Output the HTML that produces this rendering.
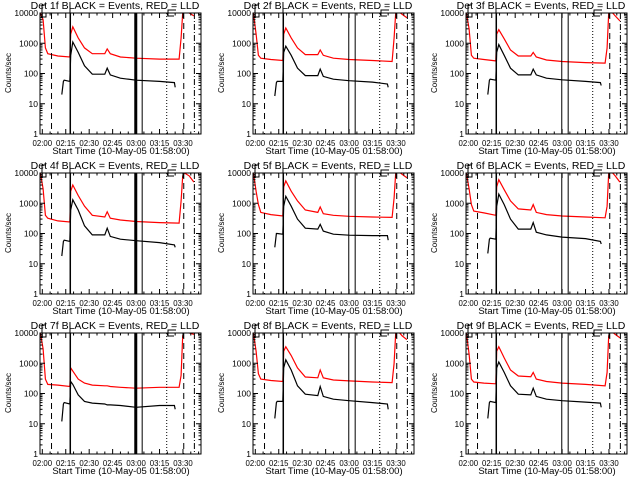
<!DOCTYPE html>
<html><head><meta charset="utf-8"><style>
html,body{margin:0;padding:0;background:#fff;width:640px;height:480px;overflow:hidden}
svg text{font-family:"Liberation Sans",sans-serif;fill:#000}
</style></head><body>
<svg id="chart" width="640" height="480" xmlns="http://www.w3.org/2000/svg"></svg>
<script>
const detectors = ["1f","2f","3f","4f","5f","6f","7f","8f","9f"];
const xTickLabels = ["02:00","02:15","02:30","02:45","03:00","03:15","03:30"];
const xTickMinutes = [0,15,30,45,60,75,90];
const yTickLabels = ["1","10","100","1000","10000"];
const yTickValues = [1,10,100,1000,10000];
const redTimes = [-1.2,0.5,2,3.5,10,17.6,18.2,19.5,23,27,32,40,41.5,43.5,50,60,75,87.5,88.8,89.8,91,94,97];
const red1 = [10000,6000,700,450,380,350,2000,3500,1500,700,450,450,650,450,350,320,300,300,1500,10000,12000,10000,8000];
const red2 = [10000,2000,400,320,290,270,2000,3200,1500,700,420,420,600,400,320,290,270,250,1500,10000,12000,9000,7000];
const red3 = [10000,3000,400,320,290,260,2000,2800,1400,600,380,380,500,350,280,250,230,220,700,10000,12000,8000,5500];
const red4 = [10000,3000,400,320,260,240,2500,4000,1800,800,400,350,520,320,280,250,230,220,1200,8000,10000,8000,5000];
const red5 = [10000,2500,900,500,420,380,3500,5500,2500,1200,600,500,750,450,400,370,350,340,1500,10000,12000,9000,7000];
const red6 = [10000,3000,900,550,480,400,3500,6000,2800,1200,650,600,900,500,420,380,350,330,800,10000,12000,8000,5000];
const red7 = [10000,3000,300,200,190,170,700,550,300,220,190,180,180,170,160,150,160,160,400,8000,12000,10000,9000];
const red8 = [10000,2500,450,300,270,250,2500,3500,1800,700,350,330,600,330,280,260,240,230,1000,10000,12000,8000,6000];
const red9 = [10000,2000,300,240,220,210,2500,3500,1500,600,380,360,500,300,250,220,200,180,500,8000,12000,9000,7000];
const blackTimes = [12.5,13.5,14,17.6,18.2,19.5,23,27,32,40,41.5,43.5,50,60,75,84.5,85];
const black1 = [20,55,60,55,400,1100,500,180,95,95,150,90,70,60,55,50,35];
const black2 = [18,50,55,55,500,800,400,150,85,85,140,80,65,58,52,45,35];
const black3 = [20,60,65,60,500,900,400,150,90,90,140,90,70,62,55,50,40];
const black4 = [18,55,60,55,600,1300,600,180,90,90,150,80,65,58,50,42,35];
const black5 = [35,100,100,95,800,1700,800,300,150,140,200,120,95,88,85,85,60];
const black6 = [22,65,70,65,800,2000,900,300,140,140,230,110,90,76,68,55,45];
const black7 = [12,45,50,45,250,200,90,55,48,45,42,42,40,35,40,40,30];
const black8 = [15,50,55,55,700,1300,600,180,95,85,170,80,65,58,50,45,30];
const black9 = [15,50,55,50,700,1100,500,180,95,90,150,80,65,58,52,48,35];
const redSeries = [red1,red2,red3,red4,red5,red6,red7,red8,red9];
const blackSeries = [black1,black2,black3,black4,black5,black6,black7,black8,black9];
const markerMinutes = [5.9,17.9,59.8,63.9,79.6,90.5,97.3];
const thickPanels = [true,false,false,true,false,false,true,false,false];

const NS="http://www.w3.org/2000/svg";
const svg=document.getElementById('chart');
function mk(tag,attrs,parent){const e=document.createElementNS(NS,tag);for(const k in attrs)e.setAttribute(k,attrs[k]);(parent||svg).appendChild(e);return e;}
const L=40,R=201,T=13,B=134;
function xs(t,ox){return ox+42.3+t*1.563;}
function ys(v,oy){return oy+B-(Math.log10(v))*(B-T)/4;}

detectors.forEach((d,i)=>{
  const ox=(i%3)*213, oy=Math.floor(i/3)*160;
  const g=mk('g',{});
  
  
  const clip='c'+i;
  const cp=mk('clipPath',{id:clip},g);mk('rect',{x:ox+L,y:oy+T,width:R-L,height:B-T},cp);
  const rp=mk('polyline',{points:redTimes.map((t,k)=>xs(t,ox).toFixed(1)+','+ys(redSeries[i][k],oy).toFixed(1)).join(' '),fill:'none',stroke:'#f00','stroke-width':1.2,'clip-path':'url(#'+clip+')'},g);
  
  
  const bp=mk('polyline',{points:blackTimes.map((t,k)=>xs(t,ox).toFixed(1)+','+ys(blackSeries[i][k],oy).toFixed(1)).join(' '),fill:'none',stroke:'#000','stroke-width':1.2,'clip-path':'url(#'+clip+')'},g);
  
  
  const styles=[{da:'6,4',w:1},{da:'',w:1.5},{da:'',w:thickPanels[i]?3:1},{da:'',w:1},{da:'1,2',w:1},{da:'6,4',w:1},{da:'6,2,1,2',w:1}];
  markerMinutes.forEach((m,k)=>{
    const x=xs(m,ox);
    const ln=mk('line',{x1:x,x2:x,y1:oy+T,y2:oy+B,stroke:'#000','stroke-width':styles[k].w,'stroke-dasharray':styles[k].da},g);
    
    
  });
  mk('polyline',{points:`${ox+41},${oy+17} ${ox+46},${oy+17} ${ox+46},${oy+13}`,fill:'none',stroke:'#000'},g);
  mk('polyline',{points:`${ox+176},${oy+10} ${ox+168},${oy+10} ${ox+168},${oy+16} ${ox+174},${oy+16}`,fill:'none',stroke:'#000'},g);
  mk('polyline',{points:`${ox+42},${oy+13} ${ox+42},${oy+5} ${ox+46},${oy+5}`,fill:'none',stroke:'#000'},g);
  mk('polyline',{points:`${ox+70},${oy+13} ${ox+70},${oy+5}`,fill:'none',stroke:'#000'},g);
  const fr=mk('rect',{x:ox+L,y:oy+T,width:R-L,height:B-T,fill:'none',stroke:'#000','stroke-width':1},g);
  
  
  for(let m=0;m<=100;m+=5){const x=xs(m,ox);const len=(m%15===0)?5:2.5;
    mk('line',{x1:x,x2:x,y1:oy+B,y2:oy+B-len,stroke:'#000'},g);mk('line',{x1:x,x2:x,y1:oy+T,y2:oy+T+len,stroke:'#000'},g);}
  xTickLabels.forEach((lab,k)=>{const t=mk('text',{x:xs(xTickMinutes[k],ox),y:oy+146,'text-anchor':'middle',style:'font-size:7.8px'},g);t.textContent=lab;
    
    });
  for(let e=0;e<4;e++)for(let k=1;k<10;k++){const v=Math.pow(10,e)*k;const y=ys(v,oy);const len=k===1?5:2.5;
    mk('line',{x1:ox+L,x2:ox+L+len,y1:y,y2:y,stroke:'#000'},g);mk('line',{x1:ox+R,x2:ox+R-len,y1:y,y2:y,stroke:'#000'},g);}
  yTickLabels.forEach((lab,k)=>{const t=mk('text',{x:ox+L-2,y:ys(yTickValues[k],oy)+3,'text-anchor':'end',style:'font-size:8.5px'},g);t.textContent=lab;
    
    });
  const title=mk('text',{x:ox+115,y:oy+9,'text-anchor':'middle',style:'font-size:10.5px'},g);title.textContent='Det '+d+' BLACK = Events, RED = LLD';
  
  
  const xl=mk('text',{x:ox+121,y:oy+154,'text-anchor':'middle',style:'font-size:9.5px'},g);xl.textContent='Start Time (10-May-05 01:58:00)';
  
  
  const yl=mk('text',{x:0,y:0,'text-anchor':'middle',style:'font-size:8px',transform:`translate(${ox+11},${oy+73}) rotate(-90)`},g);yl.textContent='Counts/sec';
  
  
});
</script>
</body></html>
